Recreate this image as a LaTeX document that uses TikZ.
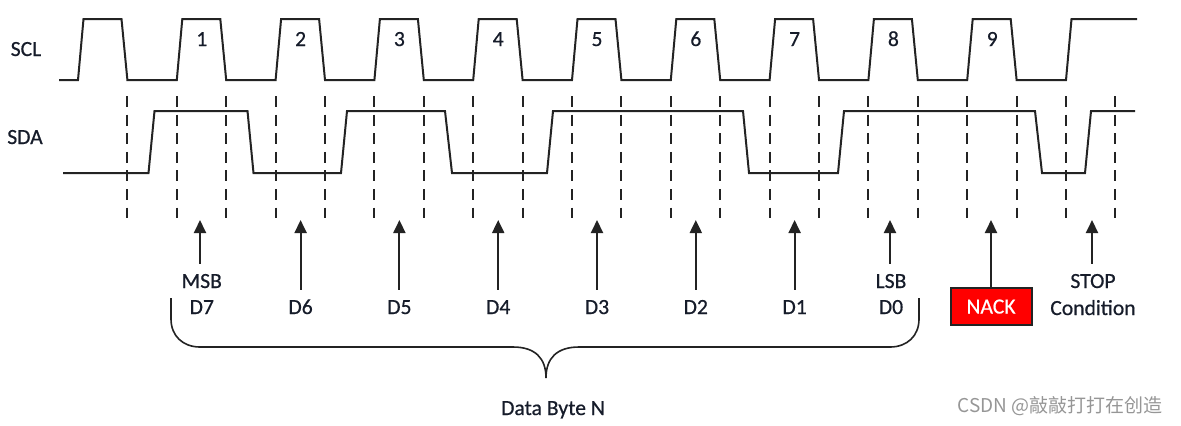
\documentclass[tikz,border=0pt]{standalone}
\usepackage{fontspec}
\setmainfont{Carlito}[FakeBold=0.6]
\newfontfamily\cjkfont{Noto Sans CJK SC}
\usetikzlibrary{arrows.meta}
\definecolor{ink}{RGB}{35,35,35}
\definecolor{lettering}{RGB}{22,28,42}
\definecolor{nackred}{RGB}{255,0,0}
\definecolor{mark}{RGB}{150,150,150}

\begin{document}
\begin{tikzpicture}[x=0.5pt,y=-0.5pt,
  wave/.style={draw=ink,line width=1pt},
  grid/.style={draw=ink,line width=1pt,dash pattern=on 5.5pt off 3.8pt},
  bit/.style={draw=ink,line width=1pt,-{Triangle[length=6.5pt,width=6pt]}},
  lbl/.style={text=lettering,font=\fontsize{10.8}{13}\selectfont,text height=7pt,text depth=0pt,inner xsep=1pt,inner ysep=5pt},
  nack/.style={lbl,draw=ink,line width=1pt,fill=nackred,text=white,minimum width=40.5pt,minimum height=18.5pt,inner sep=0pt}]
 \useasboundingbox (0,0) rectangle (1181,425);
 % signal names
 \node[lbl] (scl) at (26,49) {SCL};
 \node[lbl] (sda) at (25,137) {SDA};
 % clock
 \draw[wave] (59,80) \foreach \k in {0,...,9} { -- ({78+98.8*\k},80) -- ({83.5+98.8*\k},19) -- ({121.5+98.8*\k},19) -- ({127.4+98.8*\k},80) }
   -- (1066,80) -- (1071.5,19) -- (1137,19);
 \foreach \k in {1,...,9} \node[lbl] (clk\k) at ({103+98.8*\k},39) {\k};
 % data line
 \draw[wave] (63,173) -- (148.5,173) -- (154.5,111) -- (247.5,111) -- (253.5,173) -- (341,173) -- (347,111)
   -- (445,111) -- (452,173) -- (547,173) -- (553,111) -- (743,111) -- (749,173) -- (838,173) -- (844,111)
   -- (1035,111) -- (1042,173) -- (1085,173) -- (1091,111) -- (1135,111);
 %
 \foreach \j in {1,...,21} \draw[grid] ({78+49.4*\j},96) -- ({78+49.4*\j},218);
 % sampled bits
 \foreach \k/\d in {2/D6,3/D5,4/D4,5/D3,6/D2,7/D1} {
   \node[lbl] (bit\k) at ({103+98.8*\k},307) {\d};
   \coordinate (tip\k) at ({103+98.8*\k},220);
   \draw[bit] (bit\k) -- (tip\k);
 }
 \node[lbl] (msb) at (201.8,281) {MSB};
 \node[lbl] (bit1) at (201.8,307) {D7};
 \coordinate (tip1) at (200,220);
 \draw[bit] (msb.north -| tip1) -- (tip1);
 \node[lbl] (lsb) at (891,281) {LSB};
 \node[lbl] (bit8) at (891,307) {D0};
 \coordinate (tip8) at (890,220);
 \draw[bit] (lsb.north -| tip8) -- (tip8);
 %
 \node[nack] (nackbox) at (991,306.5) {NACK};
 \coordinate (tip9) at (991,220);
 \draw[bit] (nackbox) -- (tip9);
 \node[lbl] (stop) at (1093,281) {STOP};
 \node[lbl] (cond) at (1093,308) {Condition};
 \coordinate (tipstop) at (1092,220);
 \draw[bit] (stop.north -| tipstop) -- (tipstop);
 % byte brace
 \draw[ink,line width=0.8pt] (171,298) -- (171,319) .. controls (171,336) and (183,347) .. (200,347) -- (513,347)
   .. controls (535,347) and (546,358) .. (546,378) .. controls (546,358) and (557,347) .. (579,347) -- (890,347)
   .. controls (907,347) and (919,336) .. (919,319) -- (919,298);
 \node[lbl] (byte) at (553,408) {Data Byte N};
 %
 \node[text=mark,font=\cjkfont\fontsize{9.5}{11}\selectfont] (csdn) at (1060,406) {CSDN @敲敲打打在创造};
\end{tikzpicture}
\end{document}
